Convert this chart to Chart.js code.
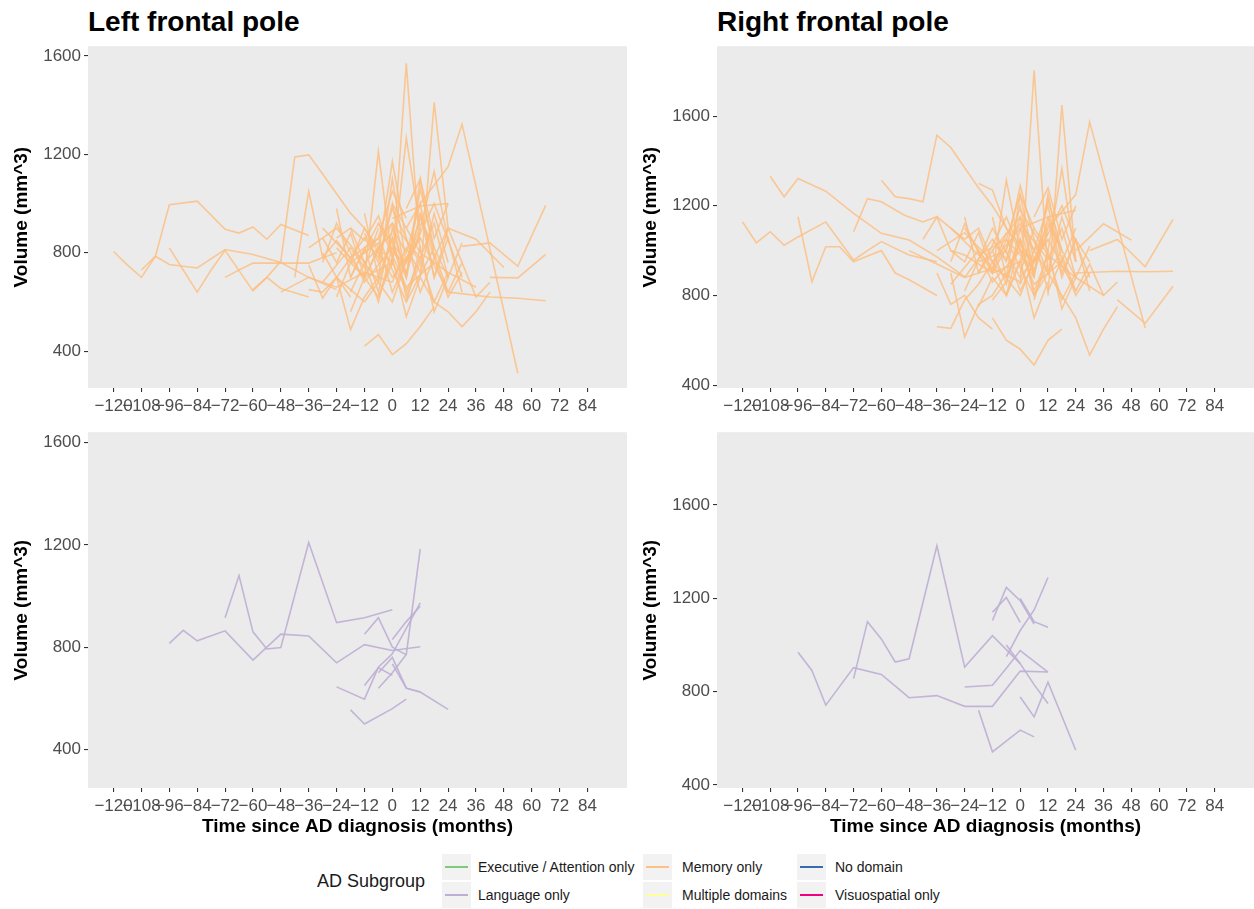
<!DOCTYPE html>
<html>
<head>
<meta charset="utf-8">
<script src="https://cdn.jsdelivr.net/npm/chart.js@4.4.1/dist/chart.umd.min.js"></script>
<style>
  body { margin: 0; width: 1254px; height: 909px; background: #fff; position: relative; overflow: hidden;
         font-family: "Liberation Sans", Arial, sans-serif; }
  canvas { position: absolute; }
  .title { position: absolute; top: 8px; font-weight: bold; font-size: 28px; line-height: 1; color: #000; }
  .legend-title { position: absolute; left: 317px; top: 870px; font-size: 18px; line-height: 22px; color: #1a1a1a; }
  .key { position: absolute; width: 29px; height: 26px; background: #f2f2f2; }
  .key span { position: absolute; left: 3px; right: 3px; top: 12px; height: 2px; }
  .key-label { position: absolute; font-size: 14px; line-height: 16px; color: #1a1a1a; }
</style>
</head>
<body>
<div class="title" style="left:88px">Left frontal pole</div>
<div class="title" style="left:717px">Right frontal pole</div>

<canvas id="leftMemory" width="640" height="390" style="left:0;top:33px"></canvas>
<canvas id="rightMemory" width="625" height="390" style="left:629px;top:33px"></canvas>
<canvas id="leftLanguage" width="640" height="430" style="left:0;top:419px"></canvas>
<canvas id="rightLanguage" width="625" height="430" style="left:629px;top:419px"></canvas>

<div id="legend"></div>

<script>
// axis breaks
const xTicks = [-120, -108, -96, -84, -72, -60, -48, -36, -24, -12, 0, 12, 24, 36, 48, 60, 72, 84];
const yTicks = [400, 800, 1200, 1600];

// subgroup names and colours (legend order)
const subgroups = ["Executive / Attention only", "Language only", "Memory only",
                   "Multiple domains", "No domain", "Visuospatial only"];
const subgroupColors = ["#7FC97F", "#BEAED4", "#FDC086", "#FFFF99", "#386CB0", "#F0027F"];

// Memory only: months since diagnosis per subject, left / right frontal pole volume
const memoryTimes = [
  [-120, -114, -108, -102, -96, -84, -72, -66, -60, -54, -48, -36],
  [-108, -102, -96, -84, -72, -60, -48, -36, -24],
  [-96, -90, -84, -78, -72, -60, -54, -48, -36],
  [-72, -66, -60, -50, -42, -36, -30, -24],
  [-60, -54, -48, -42, -36, -30, -24, -18, -12, -6],
  [-42, -36, -30, -24, -12, 0],
  [-36, -30, -24, -18, -12],
  [30, 42, 54, 66],
  [42, 54, 66],
  [24, 42, 54, 66],
  [24, 36, 48],
  [6, 12, 24, 30, 54],
  [0, 6, 12],
  [12, 18, 24],
  [-12, -6, 0, 6],
  [-12, -6, 0, 6, 12, 18],
  [-30, -24, -18, -12, -6],
  [12, 18, 24, 30, 36, 42],
  [-36, -30, -24, -18],
  [-18, -12, -6, 0, 6],
  [-6, 0, 6, 12],
  [0, 6, 12, 18, 24],
  [-30, -24, -18, -12, -6, 0],
  [-24, -18, -12, -6, 0, 6],
  [-18, -12, -6, 0, 6, 12],
  [-12, -6, 0, 6, 12, 18],
  [-6, 0, 6, 12, 18, 24],
  [0, 6, 12, 18, 24],
  [-24, -12, 0, 12, 24],
  [-12, 0, 12, 24],
  [-30, -18, -6, 6, 18],
  [-6, 6, 18, 30],
  [0, 6, 12, 18, 24, 30],
  [-18, -6, 6, 18],
  [6, 12, 18, 24],
  [-24, -18, -12],
  [-6, 0, 6, 12],
  [12, 18, 24, 30],
  [-12, -6, 0, 6, 12],
  [-30, -24, -12, 0],
  [0, 12, 24, 36],
  [18, 24, 30, 36, 42],
  [-18, -12, -6, 0],
  [6, 12, 18, 24],
  [-6, 0, 6],
  [12, 18, 24, 30],
  [0, 12, 24],
  [-36, -24, -12, 0],
  [-24, -12, -6, 0, 6],
  [-12, 0, 6, 12, 18],
  [-30, -18, -12, -6],
  [0, 6, 12, 18, 24],
  [-18, -6, 0, 12],
  [6, 12, 18, 24, 30],
  [-12, -6, 0, 6, 12],
  [-48, -36, -24, -12, 0],
  [-24, -12, 0, 12]
];
const memoryLeft = [
  [805, 750, 700, 785, 995, 1010, 895, 880, 905, 855, 915, 870],
  [730, 786, 752, 738, 813, 793, 760, 700, 650],
  [820, 730, 640, 730, 810, 645, 700, 655, 620],
  [700, 730, 758, 758, 758, 758, 780, 800],
  [650, 700, 765, 1190, 1198, 1120, 1040, 961, 900, 820],
  [700, 1050, 780, 850, 700, 760],
  [750, 616, 700, 650, 600],
  [826, 840, 745, 993],
  [700, 698, 793],
  [640, 620, 615, 605],
  [900, 855, 740],
  [900, 1000, 1150, 1323, 310],
  [750, 1570, 800],
  [700, 1412, 900],
  [700, 1212, 760, 650],
  [420, 467, 386, 430, 500, 580],
  [800, 700, 488, 620, 700],
  [700, 600, 560, 500, 560, 640],
  [650, 640, 700, 620],
  [900, 850, 950, 800, 760],
  [800, 1171, 850, 760],
  [750, 1266, 900, 1130, 850],
  [860, 760, 880, 700, 820, 760],
  [980, 700, 820, 640, 900, 700],
  [640, 760, 600, 830, 720, 880],
  [880, 760, 1000, 700, 960, 780],
  [700, 860, 640, 780, 600, 720],
  [820, 700, 1100, 780, 900],
  [620, 900, 700, 860, 640],
  [760, 600, 940, 700],
  [900, 780, 860, 600, 820],
  [920, 760, 1000, 700],
  [900, 800, 1000, 700, 900, 760],
  [700, 920, 660, 760],
  [600, 820, 560, 700],
  [860, 900, 760],
  [620, 780, 540, 700],
  [960, 700, 860, 640],
  [960, 700, 1100, 760, 860],
  [760, 920, 680, 820],
  [1000, 800, 720, 660],
  [800, 640, 760, 620, 680],
  [560, 700, 620, 760],
  [980, 1100, 860, 1000],
  [860, 1050, 940],
  [780, 920, 700, 840],
  [940, 990, 1000],
  [820, 900, 760, 880],
  [700, 860, 780, 980, 860],
  [800, 920, 700, 1060, 820],
  [680, 820, 740, 900],
  [680, 820, 720, 960, 760],
  [760, 840, 640, 900],
  [860, 640, 780, 620, 720],
  [600, 680, 860, 620, 760],
  [640, 700, 660, 720, 680],
  [820, 700, 920, 780]
];
const memoryRight = [
  [1128, 1035, 1084, 1024, 1061, 1128, 957, 1000, 1040, 1010, 980, 950],
  [1332, 1240, 1322, 1265, 1166, 1077, 1047, 972, 883],
  [1151, 861, 1017, 1017, 950, 1000, 900, 870, 800],
  [1084, 1232, 1218, 1158, 1128, 1151, 1100, 1050],
  [1314, 1240, 1232, 1218, 1515, 1460, 1370, 1280, 1200, 1100],
  [1050, 1150, 1000, 980, 900, 950],
  [900, 760, 800, 700, 650],
  [1000, 1050, 928, 1139],
  [780, 675, 841],
  [900, 908, 906, 908],
  [1000, 1120, 1047],
  [1000, 1100, 1250, 1574, 654],
  [850, 1805, 900],
  [800, 1649, 950],
  [900, 1314, 1000, 900],
  [700, 600, 560, 489, 600, 650],
  [900, 615, 760, 800, 900],
  [900, 800, 700, 534, 650, 750],
  [660, 653, 780, 850],
  [1300, 1270, 1100, 1000, 950],
  [1000, 1290, 1050, 900],
  [900, 1100, 1000, 1366, 950],
  [1000, 950, 1080, 900, 1050, 980],
  [1150, 900, 1000, 850, 1100, 880],
  [850, 950, 800, 1050, 900, 1100],
  [1050, 950, 1200, 900, 1150, 1000],
  [880, 1050, 820, 980, 780, 900],
  [980, 880, 1250, 950, 1100],
  [820, 1100, 880, 1050, 820],
  [950, 800, 1120, 880],
  [1100, 980, 1050, 800, 1000],
  [1100, 950, 1200, 880],
  [1100, 1000, 1200, 900, 1050, 950],
  [900, 1150, 850, 950],
  [780, 1000, 740, 880],
  [1050, 1100, 950],
  [800, 960, 700, 860],
  [1150, 880, 1050, 820],
  [1150, 880, 1250, 950, 1050],
  [950, 1120, 860, 1000],
  [1180, 980, 880, 800],
  [980, 820, 940, 800, 860],
  [750, 880, 800, 950],
  [1150, 1280, 1050, 1200],
  [1050, 1250, 1100],
  [960, 1100, 880, 1020],
  [1100, 1150, 1180],
  [1000, 1080, 950, 1100],
  [880, 1050, 960, 1150, 1000],
  [1000, 1150, 900, 1230, 1000],
  [850, 1000, 920, 1080],
  [850, 1000, 900, 1150, 950],
  [950, 1000, 820, 1080],
  [1050, 820, 960, 800, 900],
  [780, 860, 1050, 800, 940],
  [1000, 940, 880, 920, 860],
  [1100, 900, 1120, 960]
];

// Language only
const languageTimes = [
  [-96, -90, -84, -72, -60, -48, -36, -24, -12, 0, 12],
  [-72, -66, -60, -54, -48, -36, -24, -12, 0],
  [-12, -6, 0, 6],
  [-12, -6, 0],
  [-24, -12, -6, 0, 12],
  [-18, -12, 0, 6],
  [-6, 0, 6, 12],
  [0, 6, 12],
  [0, 6, 12, 24],
  [-6, 0, 6, 12]
];
const languageLeft = [
  [815, 866, 825, 864, 750, 851, 844, 739, 810, 787, 802],
  [915, 1080, 860, 793, 799, 1209, 896, 915, 946],
  [851, 915, 800, 770],
  [650, 720, 690],
  [645, 597, 722, 774, 973],
  [555, 500, 560, 597],
  [640, 700, 772, 1183],
  [830, 900, 960],
  [735, 640, 625, 557],
  [700, 760, 640, 625]
];
const languageRight = [
  [969, 891, 742, 903, 874, 774, 783, 737, 737, 888, 884],
  [856, 1100, 1026, 927, 941, 1425, 905, 1040, 920],
  [1105, 1247, 1190, 1090],
  [1140, 1204, 1097],
  [820, 827, 900, 976, 884],
  [720, 542, 635, 606],
  [950, 1062, 1150, 1289],
  [1200, 1100, 1076],
  [777, 692, 841, 549],
  [1000, 920, 830, 749]
];

const FONT = '"Liberation Sans", Arial, sans-serif';

function makeDatasets(times, vols, color) {
  return times.map((t, i) => ({
    data: t.map((x, j) => ({ x: x, y: vols[i][j] })),
    borderColor: color,
    borderWidth: 1.6,
    pointRadius: 0,
    tension: 0,
    fill: false
  }));
}

// grey panel behind the lines
const panelBg = {
  id: 'panelBg',
  beforeDraw(chart) {
    const { ctx, chartArea: a } = chart;
    ctx.save();
    ctx.fillStyle = '#EBEBEB';
    ctx.fillRect(a.left, a.top, a.right - a.left, a.bottom - a.top);
    ctx.restore();
  }
};

function tickLabel(v) {
  return v < 0 ? '\u2212' + Math.abs(v) : String(v);
}

function drawPanel(id, datasets, yMin, yMax, xAxisHeight, showXTitle, padRight) {
  new Chart(document.getElementById(id), {
    type: 'line',
    data: { datasets: datasets },
    plugins: [panelBg],
    options: {
      responsive: false,
      animation: false,
      devicePixelRatio: 1,
      layout: { padding: { top: 12, right: padRight, bottom: 0, left: 0 } },
      plugins: { legend: { display: false }, tooltip: { enabled: false } },
      scales: {
        x: {
          type: 'linear',
          min: -131,
          max: 101,
          afterBuildTicks: s => { s.ticks = xTicks.map(v => ({ value: v })); },
          afterFit: s => { s.height = xAxisHeight; },
          grid: { display: true, drawOnChartArea: false, drawTicks: true, tickLength: 4, color: '#333333', lineWidth: 1.1 },
          border: { display: false },
          ticks: { autoSkip: false, maxRotation: 0, minRotation: 0, padding: 4, color: '#4D4D4D',
                   font: { family: FONT, size: 17 }, callback: tickLabel },
          title: { display: showXTitle, text: 'Time since AD diagnosis (months)', color: '#000',
                   font: { family: FONT, size: 19, weight: 'bold' }, padding: { top: 0, bottom: 11 } }
        },
        y: {
          type: 'linear',
          min: yMin,
          max: yMax,
          afterBuildTicks: s => { s.ticks = yTicks.map(v => ({ value: v })); },
          afterFit: s => { s.width = 88; },
          grid: { display: true, drawOnChartArea: false, drawTicks: true, tickLength: 4, color: '#333333', lineWidth: 1.1 },
          border: { display: false },
          ticks: { padding: 3, color: '#4D4D4D', font: { family: FONT, size: 17 }, callback: tickLabel },
          title: { display: true, text: 'Volume (mm^3)', color: '#000',
                   font: { family: FONT, size: 19, weight: 'bold' }, padding: { top: 10, bottom: 0 } }
        }
      }
    }
  });
}

const memoryColor = 'rgba(253,190,128,0.82)';
const languageColor = 'rgba(190,174,212,0.9)';

drawPanel('leftMemory', makeDatasets(memoryTimes, memoryLeft, memoryColor), 250, 1640, 35, false, 13);
drawPanel('rightMemory', makeDatasets(memoryTimes, memoryRight, memoryColor), 387, 1912, 35, false, 0);
drawPanel('leftLanguage', makeDatasets(languageTimes, languageLeft, languageColor), 250, 1640, 61, true, 13);
drawPanel('rightLanguage', makeDatasets(languageTimes, languageRight, languageColor), 387, 1912, 61, true, 0);

// legend: three columns, two rows, filled column by column
const legend = document.getElementById('legend');
legend.innerHTML = '<div class="legend-title">AD Subgroup</div>';
const keyLeft = [442, 643, 797];
const labelLeft = [478, 682, 835];
const rowTop = [854, 882];
subgroups.forEach((name, i) => {
  const col = Math.floor(i / 2), row = i % 2;
  const key = document.createElement('div');
  key.className = 'key';
  key.style.left = keyLeft[col] + 'px';
  key.style.top = rowTop[row] + 'px';
  key.innerHTML = '<span style="background:' + subgroupColors[i] + '"></span>';
  legend.appendChild(key);
  const label = document.createElement('div');
  label.className = 'key-label';
  label.style.left = labelLeft[col] + 'px';
  label.style.top = (rowTop[row] + 5) + 'px';
  label.textContent = name;
  legend.appendChild(label);
});
</script>
</body>
</html>
